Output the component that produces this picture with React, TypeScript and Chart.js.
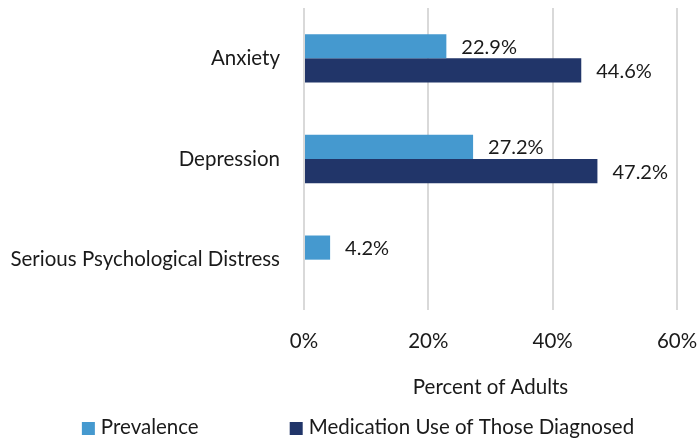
import React, { useEffect, useRef } from "react";
import { Chart, registerables } from "chart.js";

Chart.register(...registerables);

const categories = ["Anxiety", "Depression", "Serious Psychological Distress"];
const prevalence = [22.9, 27.2, 4.2];
const medication: (number | null)[] = [44.6, 47.2, null];
const seriesNames = ["Prevalence", "Medication Use of Those Diagnosed"];
const xTickValues = [0, 20, 40, 60];

const FONT = "Lato, 'Open Sans', sans-serif";
const TEXT = "#1a1a1a";
const COLORS = ["#4599cf", "#213569"];
const FS = 20.5;

const dataLabels = {
  id: "dataLabels",
  afterDatasetsDraw(chart: any) {
    const ctx = chart.ctx;
    ctx.save();
    ctx.font = `20px ${FONT}`;
    ctx.fillStyle = TEXT;
    ctx.textAlign = "left";
    ctx.textBaseline = "middle";
    chart.data.datasets.forEach((ds: any, i: number) => {
      const meta = chart.getDatasetMeta(i);
      meta.data.forEach((el: any, j: number) => {
        const v = ds.data[j];
        if (v === null || v === undefined) return;
        ctx.fillText(`${v.toFixed(1)}%`, el.x + 15, el.y + 1);
      });
    });
    ctx.restore();
  },
};

const customLegend = {
  id: "customLegend",
  afterDraw(chart: any) {
    const ctx = chart.ctx;
    ctx.save();
    ctx.font = `${FS}px ${FONT}`;
    ctx.textBaseline = "middle";
    ctx.textAlign = "left";
    const box = 13;
    const boxGap = 6;
    const itemGap = 91;
    const widths = seriesNames.map((n) => box + boxGap + ctx.measureText(n).width);
    const total = widths.reduce((a, b) => a + b, 0) + itemGap * (seriesNames.length - 1);
    let x = 358 - total / 2;
    const y = 427;
    seriesNames.forEach((n, i) => {
      ctx.fillStyle = COLORS[i];
      ctx.fillRect(x, 422, box, box);
      ctx.fillStyle = TEXT;
      ctx.fillText(n, x + box + boxGap, y);
      x += widths[i] + itemGap;
    });
    ctx.restore();
  },
};

export default function App() {
  const ref = useRef<HTMLCanvasElement>(null);
  useEffect(() => {
    if (!ref.current) return;
    const chart = new Chart(ref.current, {
      type: "bar",
      data: {
        labels: categories,
        datasets: [
          {
            label: seriesNames[0],
            data: prevalence,
            backgroundColor: COLORS[0],
            categoryPercentage: 0.48,
            barPercentage: 1,
          },
          {
            label: seriesNames[1],
            data: medication,
            backgroundColor: COLORS[1],
            categoryPercentage: 0.48,
            barPercentage: 1,
          },
        ],
      },
      options: {
        indexAxis: "y",
        responsive: false,
        animation: false,
        layout: { padding: { top: 8, right: 21, bottom: 39, left: 0 } },
        plugins: {
          legend: { display: false },
          tooltip: { enabled: false },
        },
        scales: {
          x: {
            min: 0,
            max: 60,
            afterBuildTicks: (s: any) => {
              s.ticks = xTickValues.map((v) => ({ value: v }));
            },
            ticks: {
              callback: (v: any) => `${v}%`,
              font: { family: FONT, size: FS },
              color: TEXT,
              padding: 19,
              maxRotation: 0,
            },
            grid: { color: "#d9d9d9", lineWidth: 2, drawTicks: false },
            border: { display: false },
            title: {
              display: true,
              text: "Percent of Adults",
              font: { family: FONT, size: FS },
              color: TEXT,
              padding: { top: 0, bottom: 0 },
            },
            afterFit: (s: any) => {
              s.height = 90;
              s.paddingLeft = 0;
              s.paddingRight = 0;
            },
          },
          y: {
            grid: { display: false, drawTicks: false },
            border: { display: false },
            ticks: {
              font: { family: FONT, size: FS },
              color: TEXT,
              padding: 24,
            },
            afterFit: (s: any) => {
              s.width = 304;
              s.paddingTop = 0;
              s.paddingBottom = 0;
            },
          },
        },
      },
      plugins: [dataLabels, customLegend],
    });
    return () => chart.destroy();
  }, []);
  return (
    <div style={{ position: "fixed", left: 0, top: 0, width: 698, height: 439, background: "#fff" }}>
      <canvas ref={ref} width={698} height={439} />
    </div>
  );
}
